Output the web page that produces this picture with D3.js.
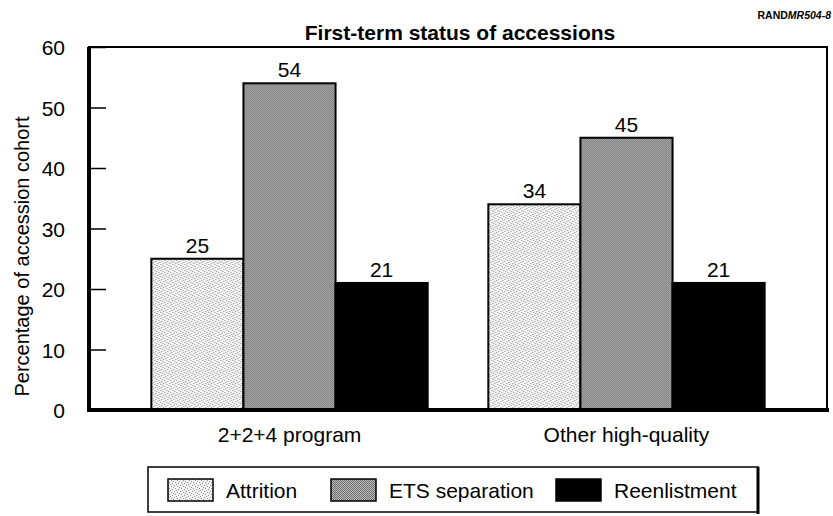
<!DOCTYPE html>
<html>
<head>
<meta charset="utf-8">
<script src="https://cdn.jsdelivr.net/npm/d3@7/dist/d3.min.js"></script>
<style>
  body { margin: 0; background: #fff; }
  svg text { font-family: "Liberation Sans", Arial, Helvetica, sans-serif; fill: #000; }
</style>
</head>
<body>
<div class="chart"></div>
<script>
// data
var groups = ["2+2+4 program", "Other high-quality"];
var series = ["Attrition", "ETS separation", "Reenlistment"];
var attrition = [25, 34];
var etsSeparation = [54, 45];
var reenlistment = [21, 21];
var yTicks = [0, 10, 20, 30, 40, 50, 60];

var values = [attrition, etsSeparation, reenlistment];
var rows = groups.map((g, i) => ({
  group: g,
  bars: series.map((s, j) => ({ key: s, value: values[j][i] }))
}));

var W = 833, H = 516,
    margin = {top: 47, right: 6, bottom: 106, left: 89},
    width = W - margin.left - margin.right,
    height = H - margin.top - margin.bottom;

var svg = d3.select(".chart").append("svg")
  .attr("width", W)
  .attr("height", H);

// fills: stipple, dense grey screen, solid black
var defs = svg.append("defs");
var p1 = defs.append("pattern").attr("id", "pat-attr")
  .attr("patternUnits", "userSpaceOnUse").attr("width", 6).attr("height", 6);
p1.append("rect").attr("width", 6).attr("height", 6).attr("fill", "#f3f3f3");
[[0, 0], [3, 1], [1, 3], [4, 4], [5, 2], [2, 5]].forEach(d => {
  p1.append("rect").attr("x", d[0]).attr("y", d[1]).attr("width", 1).attr("height", 1).attr("fill", "#8c8c8c");
});
var p2 = defs.append("pattern").attr("id", "pat-ets")
  .attr("patternUnits", "userSpaceOnUse").attr("width", 2).attr("height", 2);
p2.append("rect").attr("width", 2).attr("height", 2).attr("fill", "#bcbcbc");
p2.append("rect").attr("x", 0).attr("y", 0).attr("width", 1).attr("height", 1).attr("fill", "#666");
p2.append("rect").attr("x", 1).attr("y", 1).attr("width", 1).attr("height", 1).attr("fill", "#727272");

var fills = {
  "Attrition": "url(#pat-attr)",
  "ETS separation": "url(#pat-ets)",
  "Reenlistment": "#000"
};

var g = svg.append("g")
  .attr("transform", `translate(${margin.left}, ${margin.top})`);

var x0 = d3.scaleBand()
  .domain(groups)
  .range([0, width])
  .paddingInner(0.18)
  .paddingOuter(0.185);

var x1 = d3.scaleBand()
  .domain(series)
  .range([0, x0.bandwidth()]);

var y = d3.scaleLinear()
  .domain([0, 60])
  .range([height, 0]);

// frame
g.append("rect")
  .attr("x", 0).attr("y", 0)
  .attr("width", width).attr("height", height)
  .attr("fill", "none")
  .attr("stroke", "#000")
  .attr("stroke-width", 2);

// bars
var grp = g.selectAll(".grp")
  .data(rows)
  .enter().append("g")
  .attr("class", "grp")
  .attr("transform", d => `translate(${x0(d.group)}, 0)`);

grp.selectAll("rect")
  .data(d => d.bars)
  .enter().append("rect")
  .attr("x", d => x1(d.key))
  .attr("y", d => y(d.value))
  .attr("width", x1.bandwidth())
  .attr("height", d => height - y(d.value))
  .attr("fill", d => fills[d.key])
  .attr("stroke", "#000")
  .attr("stroke-width", 2);

grp.selectAll(".val")
  .data(d => d.bars)
  .enter().append("text")
  .attr("class", "val")
  .attr("x", d => x1(d.key) + x1.bandwidth() / 2)
  .attr("y", d => y(d.value) - 6)
  .attr("text-anchor", "middle")
  .style("font-size", "21px")
  .text(d => d.value);

// y axis
var yAxis = g.append("g")
  .call(d3.axisLeft(y).tickValues(yTicks).tickSize(-17).tickPadding(24));
yAxis.select(".domain").remove();
yAxis.selectAll(".tick line").attr("stroke", "#000").attr("stroke-width", 1.5);
yAxis.selectAll(".tick text").style("font-size", "21px").attr("dy", "0.36em");
g.append("line")
  .attr("x1", 0).attr("x2", 0).attr("y1", 0).attr("y2", height + 2)
  .attr("stroke", "#000").attr("stroke-width", 4);

// x axis
var xAxis = g.append("g")
  .attr("transform", `translate(0, ${height})`)
  .call(d3.axisBottom(x0).tickSize(0).tickPadding(17));
xAxis.select(".domain").remove();
xAxis.selectAll(".tick text").style("font-size", "21px");
g.append("line")
  .attr("x1", -2).attr("x2", width + 2).attr("y1", height).attr("y2", height)
  .attr("stroke", "#000").attr("stroke-width", 4);

// titles
svg.append("text")
  .attr("x", 460).attr("y", 40)
  .attr("text-anchor", "middle")
  .style("font-size", "21px")
  .style("font-weight", "bold")
  .text("First-term status of accessions");

var tag = svg.append("text")
  .attr("x", 831).attr("y", 19)
  .attr("text-anchor", "end")
  .style("font-size", "10.5px")
  .style("font-weight", "bold");
tag.append("tspan").text("RAND");
tag.append("tspan").style("font-style", "italic").text("MR504-8");

svg.append("text")
  .attr("transform", `translate(29, ${margin.top + height / 2 + 28}) rotate(-90)`)
  .attr("text-anchor", "middle")
  .style("font-size", "20px")
  .text("Percentage of accession cohort");

// legend
var legendX = [168, 331, 556];
var legend = svg.append("g");
legend.append("rect")
  .attr("x", 148).attr("y", 467)
  .attr("width", 610).attr("height", 45)
  .attr("fill", "none")
  .attr("stroke", "#000")
  .attr("stroke-width", 1.5);
legend.append("line")
  .attr("x1", 758).attr("x2", 758).attr("y1", 467).attr("y2", 514)
  .attr("stroke", "#000").attr("stroke-width", 3);

var item = legend.selectAll(".item")
  .data(series)
  .enter().append("g")
  .attr("class", "item")
  .attr("transform", (d, i) => `translate(${legendX[i]}, 479)`);
item.append("rect")
  .attr("width", 45).attr("height", 22)
  .attr("fill", d => fills[d])
  .attr("stroke", "#000")
  .attr("stroke-width", 1.5);
item.append("text")
  .attr("x", 58).attr("y", 11)
  .attr("dy", "0.36em")
  .style("font-size", "21px")
  .text(d => d);
</script>
</body>
</html>
